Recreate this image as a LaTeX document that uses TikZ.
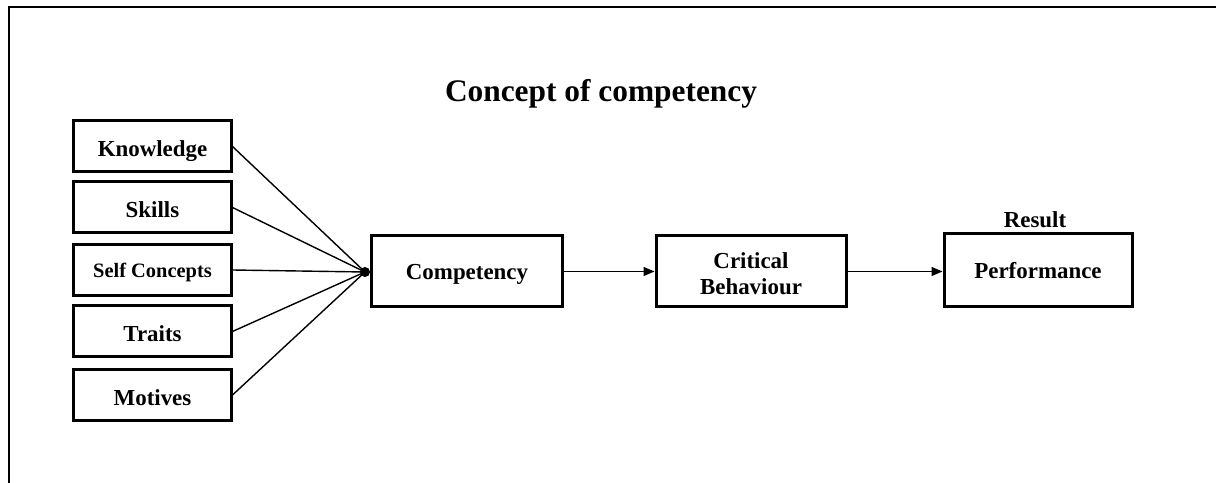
\documentclass[tikz,border=0pt]{standalone}
\usepackage{fontspec}
\setmainfont{Liberation Serif}
\usetikzlibrary{arrows.meta}
\begin{document}
\begin{tikzpicture}[x=1bp,y=-1bp,
  box/.style={draw, line width=3bp, inner sep=0pt, align=center,
    font=\fontsize{23}{27}\selectfont\bfseries},
  leftbox/.style={box, minimum width=157bp, minimum height=51bp,
    text height=20bp, text depth=0bp},
  bigbox/.style={box, minimum width=191bp, minimum height=71bp,
    text height=16bp, text depth=0bp},
  link/.style={line width=1.4bp},
  flow/.style={line width=1.4bp, -{Triangle[length=11bp,width=9bp]}},
  frameline/.style={line width=2bp}]
  \useasboundingbox (0,0) rectangle (1216,483);

  % open frame along the left and top edges
  \coordinate (fbot) at (9,483);
  \coordinate (fcorner) at (9,7);
  \coordinate (fright) at (1216,7);
  \draw[frameline] (fbot) -- (fcorner) -- (fright);

  % title
  \node[font=\fontsize{31.5}{34}\selectfont\bfseries, inner sep=0pt, anchor=base]
    (title) at (601,102) {Concept of competency};

  % components of competency
  \node[leftbox] (know) at (152.5,146.5) {Knowledge};
  \node[leftbox] (skill) at (152.5,207.5) {Skills};
  \node[leftbox, text height=16bp, font=\fontsize{20.5}{24}\selectfont\bfseries] (self) at (152.5,270) {Self Concepts};
  \node[leftbox] (trait) at (152.5,331.5) {Traits};
  \node[leftbox] (motive) at (152.5,395) {Motives};

  % main chain
  \node[bigbox] (comp) at (467,271.5) {Competency};
  \node[box, minimum width=190bp, minimum height=71bp] (crit) at (751,271.5) {};
  % two-line label; its base anchor sits on the second line
  \node[font=\fontsize{23}{27}\selectfont\bfseries, inner sep=0pt, align=center, anchor=base]
    (critlabel) at (751,295) {Critical\\Behaviour};
  \node[bigbox, minimum width=188bp, minimum height=73bp] (perf) at (1038,270.5) {Performance};
  \node[font=\fontsize{23}{27}\selectfont\bfseries, inner sep=0pt, anchor=base]
    (result) at (1035,228) {Result};

  % junction dot where the components meet
  \node[circle, fill, inner sep=0pt, minimum size=10bp] (hub) at (365,272) {};

  \foreach \n in {know,skill,self,trait,motive}
    \draw[link] (\n.east) -- (hub.center);

  \draw[flow] (comp.east) -- (crit.west);
  \draw[flow] (crit.east) -- (crit.east -| perf.west);
\end{tikzpicture}
\end{document}
